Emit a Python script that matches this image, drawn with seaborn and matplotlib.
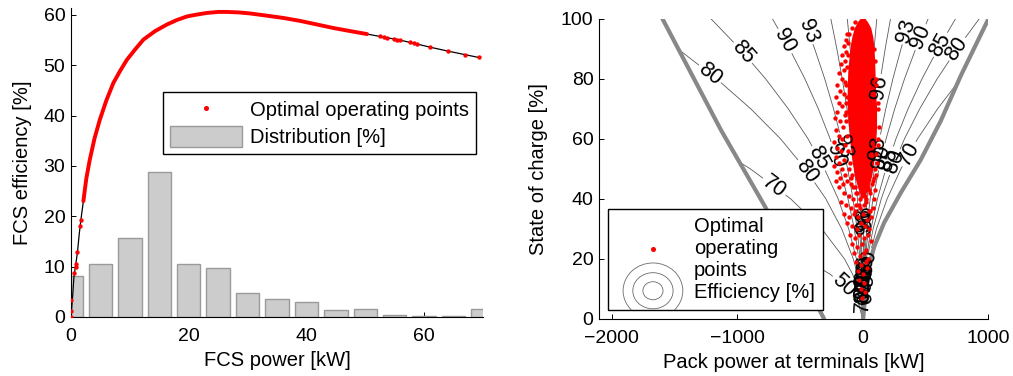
import numpy as np
import pandas as pd
import matplotlib
matplotlib.use("Agg")
import matplotlib.pyplot as plt
import seaborn as sns
from matplotlib.patches import Ellipse, Patch
from matplotlib.lines import Line2D
from matplotlib.legend_handler import HandlerBase

# ---------------------------------------------------------------- data ----
# Fuel-cell system efficiency curve
fcs_power_kw = [0, 0.3, 0.5, 0.8, 1.1, 1.4, 1.7, 2.1, 2.6, 3.2, 4.0, 4.9, 6.0,
                7.2, 8.4, 9.5, 11.0, 12.3, 14.3, 16.3, 18.0, 19.7, 21.5, 23.1,
                25.0, 26.5, 28.5, 30.4, 33.0, 36.1, 39.0, 41.8, 44.6, 47.4,
                50.3, 53.1, 55.9, 58.5, 61.0, 64.1, 67.0, 69.5]
fcs_eff_pct = [0, 4.5, 8.0, 10.4, 12.9, 16.5, 19.5, 23.0, 27.5, 31.3, 35.5,
               39.2, 43.0, 46.5, 49.0, 51.1, 53.3, 55.1, 56.8, 58.1, 59.0,
               59.7, 60.1, 60.4, 60.6, 60.6, 60.5, 60.3, 59.9, 59.4, 58.8,
               58.1, 57.4, 56.8, 56.2, 55.6, 55.0, 54.3, 53.6, 52.8, 52.1,
               51.5]
# Range of FCS power where optimal operating points overlap into a band
dense_range_kw = (2.1, 51.0)
# Isolated optimal operating points
opt_power_kw = [0, 0, 0, 0.5, 0.8, 0.9, 1.1, 1.6, 1.7, 52.5, 53.1, 53.7,
                54.8, 55.4, 55.9, 57.6, 58.2, 58.8, 61.0, 64.1, 67.0, 69.4]
opt_eff_pct = [0, 1.1, 3.4, 8.7, 10.0, 10.5, 12.9, 18.0, 19.3, 55.8, 55.6,
               55.5, 55.2, 55.1, 55.0, 54.6, 54.4, 54.2, 53.6, 52.8, 52.1,
               51.6]
# Distribution of FCS power (5 kW classes)
dist_center_kw = [0, 5, 10, 15, 20, 25, 30, 35, 40, 45, 50, 55, 60, 65, 70]
dist_share_pct = [8.2, 10.6, 15.7, 28.8, 10.6, 9.7, 4.7, 3.55, 2.95, 1.4,
                  1.6, 0.45, 0.25, 0.15, 1.6]

# Battery pack: OCV^2 / R as a function of state of charge
soc_pts = [0, 5, 10, 15, 20, 30, 40, 50, 60, 70, 80, 90, 100]
ocv2_over_r_kw = [0, 15, 58, 131, 235, 530, 935, 1460, 2090, 2850, 3720,
                  4710, 5815]
# Pack power limits
lim_soc_left = [0, 37, 63, 100]
lim_power_left = [-306, -771, -1129, -1594]
lim_soc_right = [0, 8, 16, 24, 32, 42, 53, 66, 81, 100]
lim_power_right = [5, 22, 40, 93, 172, 305, 464, 624, 783, 1004]
eff_levels = [50, 70, 80, 85, 90, 93, 96, 98]
label_pos = [(-1222, 81.3), (-956, 88.6), (-625, 92.4), (-438, 95.8),
             (-452, 49.1), (-372, 53), (-253, 54), (-173, 57.4),
             (-704, 44), (-159, 10.8),
             (146, 76.9), (358, 95.8), (451, 94.1), (624, 91.3), (743, 90.2),
             (358, 55.2), (110, 57), (155, 54), (216, 53), (271, 52),
             (-30, 33), (10, 33), (30, 32),
             (60, 19), (40, 17), (20, 15), (-10, 14), (30, 13), (0, 11),
             (20, 9), (-20, 8), (10, 6), (-30, 12), (40, 11), (-15, 17)]

# Optimal operating points of the pack: dense core outline
core_soc = [100.5, 100, 99, 97, 94, 91, 87, 82, 76, 70, 64, 58, 53, 48, 44,
            41]
core_left = [0, -22, -40, -66, -85, -98, -108, -118, -122, -122, -112, -98,
             -85, -65, -40, -15]
core_right = [0, 22, 40, 66, 82, 90, 96, 100, 104, 112, 112, 105, 92, 75,
              50, 20]
# Scattered optimal operating points of the pack
pts_power_kw = [-120, -135, -150, -128, -162, -140, -175, -150, -190, -165,
                -140, -200, -178, -150, -215, -190, -160, -205, -140, -222,
                -180, -155, -210, -190, -165, -228, -140, -200, -175, -215,
                -150, -190, -230, -165, -205, -140, -180, -215, -155, -190,
                -120, -95, -60, -30, 10, 45, 80, 100, -150, -110, -75, -40,
                -5, 25, 60, 95, -170, -130, -90, -50, -20, 15, 50, 80, -145,
                -105, -70, -35, 5, 35, 70, -120, -85, -45, -10, 20, 55, -100,
                -60, -25, 10, 40, 65, -80, -40, 0, 30, -65, -20, 15, 45, -50,
                -10, 25, -35, 5, 35, -25, 15, -10, 20, 0,
                125, 128, 122, 112, 105, 104, 100, 92, -115, -105, -80, -60,
                -110, -95, -75, -50, -20, 20, 55, 75, 90, 100, 110, 120,
                -115, -120, -130, -132, -130, -124, -115, -100, -85, -30, 30,
                -60, 60, -125, 120, -135, 108]
pts_soc = [95, 93, 91, 89, 88, 86, 85, 83, 82, 80, 79, 78, 76, 75, 74, 72, 71,
           69, 68, 67, 66, 64, 63, 61, 60, 59, 58, 57, 56, 54, 53, 52, 51, 50,
           49, 48, 47, 46, 45, 44,
           46, 45, 44, 46, 45, 44, 46, 43, 42, 41, 40, 42, 41, 40, 42, 40, 39,
           38, 37, 38, 37, 38, 36, 37, 35, 34, 35, 34, 35, 33, 34, 32, 31, 30,
           32, 31, 30, 28, 27, 28, 27, 28, 26, 25, 24, 25, 23, 22, 21, 22, 20,
           19, 18, 19, 16, 15, 17, 13, 12, 10, 9, 7,
           72, 64, 58, 52, 48, 78, 86, 90, 92, 95, 97, 99,
           50, 47, 44, 42, 40, 41, 43, 45, 47, 50, 55, 60,
           56, 61, 66, 72, 78, 84, 88, 52, 48, 38, 39,
           36, 36, 74, 70, 69, 80]

# --------------------------------------------------------------- style ----
sns.set_theme(style="ticks")
plt.rcParams['font.family'] = ['Liberation Sans', 'DejaVu Sans']
plt.rcParams.update({
    'font.size': 14.5,
    'axes.labelsize': 14.5,
    'xtick.labelsize': 14,
    'ytick.labelsize': 14,
    'axes.edgecolor': 'black',
    'axes.linewidth': 0.8,
    'xtick.direction': 'in',
    'ytick.direction': 'in',
    'xtick.color': 'black',
    'ytick.color': 'black',
    'xtick.major.size': 3.5,
    'ytick.major.size': 3.5,
    'xtick.major.width': 0.7,
    'ytick.major.width': 0.7,
    'xtick.major.pad': 8,
    'ytick.major.pad': 4,
    'text.color': 'black',
    'axes.labelcolor': 'black',
})

fig = plt.figure(figsize=(10.13, 3.76), dpi=100)
ax1 = fig.add_axes([0.0701, 0.157, 0.4067, 0.822])
ax2 = fig.add_axes([0.5913, 0.152, 0.3840, 0.798])

# ------------------------------------------------------------ FCS panel ----
dist_df = pd.DataFrame({'power': dist_center_kw, 'share': dist_share_pct})
sns.histplot(data=dist_df, x='power', weights='share', binwidth=5,
             binrange=(-2.5, 72.5), shrink=0.8, color='#cccccc',
             edgecolor='#9a9a9a', linewidth=1.0, alpha=1, ax=ax1)
sns.lineplot(x=fcs_power_kw, y=fcs_eff_pct, sort=False, estimator=None,
             color='black', lw=0.9, ax=ax1)
band_x = [p for p in fcs_power_kw if dense_range_kw[0] <= p <= dense_range_kw[1]]
band_y = [e for p, e in zip(fcs_power_kw, fcs_eff_pct)
          if dense_range_kw[0] <= p <= dense_range_kw[1]]
sns.lineplot(x=band_x, y=band_y, sort=False, estimator=None, color='red',
             lw=2.8, solid_capstyle='round', ax=ax1)
sns.scatterplot(x=opt_power_kw, y=opt_eff_pct, color='red', s=10,
                linewidth=0, ax=ax1, zorder=5)

ax1.set_xlim(0, 70)
ax1.set_ylim(0, 61.4)
ax1.set_xticks([0, 20, 40, 60])
ax1.set_yticks([0, 10, 20, 30, 40, 50, 60])
ax1.set_xlabel('FCS power [kW]', labelpad=4)
ax1.set_ylabel('FCS efficiency [%]', labelpad=8)
sns.despine(ax=ax1)

leg1 = ax1.legend(
    handles=[Line2D([], [], marker='o', ms=2.6, color='red', ls=''),
             Patch(facecolor='#cccccc', edgecolor='#9a9a9a', lw=1.0)],
    labels=['Optimal operating points', 'Distribution [%]'],
    loc='upper right', bbox_to_anchor=(0.983, 0.728), borderaxespad=0,
    frameon=True, fancybox=False, framealpha=1, edgecolor='black',
    handlelength=3.55, handleheight=1.2, handletextpad=0.4,
    labelspacing=0.3, borderpad=0.35, fontsize=14.5)
leg1.get_frame().set_linewidth(1.0)

# ----------------------------------------------------------- pack panel ----
P = np.unique(np.concatenate([np.linspace(-2100, -200, 500),
                              np.linspace(-200, 200, 1001),
                              np.linspace(200, 1000, 300)]))
S = np.linspace(0, 100, 801)
PP, SS = np.meshgrid(P, S)
g = np.maximum(np.interp(SS, soc_pts, ocv2_over_r_kw), 1e-3)
with np.errstate(invalid='ignore', divide='ignore'):
    eff_dis = 50 * (1 + np.sqrt(1 - 4 * PP / g))
    k = np.where(PP < 0, -PP / g, 1.0)
    eff_chg = 100 * (np.sqrt(1 + 4 * k) - 1) / (2 * k)
eff = np.where(PP >= 0, eff_dis, eff_chg)
left_b = np.interp(SS, lim_soc_left, lim_power_left)
right_b = np.interp(SS, lim_soc_right, lim_power_right)
eff[(PP < left_b) | (PP > right_b)] = np.nan

cs = ax2.contour(PP, SS, eff, levels=eff_levels, colors='#5a5a5a',
                 linewidths=0.6, zorder=2)
labels = ax2.clabel(cs, fmt='%d', inline=True, manual=label_pos,
                    fontsize=15.5, colors='black', inline_spacing=2)
for t in labels:
    t.set_zorder(5.5)

sns.lineplot(x=lim_power_left, y=lim_soc_left, sort=False, estimator=None,
             color='#888888', lw=3, ax=ax2, zorder=3)
sns.lineplot(x=lim_power_right, y=lim_soc_right, sort=False, estimator=None,
             color='#888888', lw=3, ax=ax2, zorder=3)

ax2.fill_betweenx(core_soc, core_left, core_right, color='red', lw=0,
                  zorder=5)
sns.scatterplot(x=pts_power_kw, y=pts_soc, color='red', s=10, linewidth=0,
                ax=ax2, zorder=6)

ax2.set_xlim(-2100, 1000)
ax2.set_ylim(0, 100)
ax2.set_xticks([-2000, -1000, 0, 1000])
ax2.set_yticks([0, 20, 40, 60, 80, 100])
ax2.set_xlabel('Pack power at terminals [kW]', labelpad=4)
ax2.set_ylabel('State of charge [%]', labelpad=9)
sns.despine(ax=ax2)


class ContourIcon:
    pass


class ContourIconHandler(HandlerBase):
    def __init__(self):
        super().__init__()
        self.made = []

    def create_artists(self, legend, orig_handle, xdescent, ydescent,
                       width, height, fontsize, trans):
        cx = 0.5 * width - xdescent
        cy = 0.5 * height - ydescent
        arts = []
        for w, h in [(43, 40), (29, 26), (14.5, 13)]:
            e = Ellipse((cx, cy), w, h, fill=False, edgecolor='#6a6a6a',
                        lw=0.6, transform=trans)
            arts.append(e)
        self.made.extend(arts)
        return arts


icon_handler = ContourIconHandler()
leg2 = ax2.legend(
    handles=[Line2D([], [], marker='o', ms=2.6, color='red', ls=''),
             ContourIcon()],
    labels=['Optimal\noperating\npoints', 'Efficiency [%]'],
    handler_map={ContourIcon: icon_handler},
    loc='lower left', bbox_to_anchor=(0.023, 0.03), borderaxespad=0,
    frameon=True, fancybox=False, framealpha=1, edgecolor='black',
    handlelength=3.67, handletextpad=0.2, labelspacing=0.15,
    borderpad=0.4, fontsize=14.5)
leg2.get_frame().set_linewidth(1.0)
leg2.set_zorder(10)
for art in icon_handler.made:
    art.set_clip_path(leg2.legendPatch)

fig.savefig('out.png', dpi=100)
